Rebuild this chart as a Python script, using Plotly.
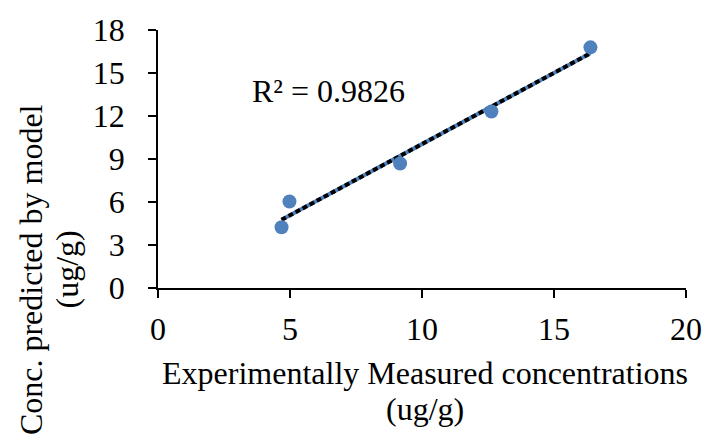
import numpy as np
import plotly.graph_objects as go

# Data
measured = [4.68, 4.98, 9.17, 12.63, 16.38]
predicted = [4.24, 6.03, 8.69, 12.31, 16.79]
x_ticks = [0, 5, 10, 15, 20]
y_ticks = [0, 3, 6, 9, 12, 15, 18]
r2_label = "R² = 0.9826"
x_title_lines = ["Experimentally Measured concentrations", "(ug/g)"]
y_title_lines = ["Conc. predicted by model", "(ug/g)"]

slope, intercept = np.polyfit(measured, predicted, 1)
tx = [min(measured), max(measured)]
ty = [slope * v + intercept for v in tx]

FONT = "Liberation Serif, Times New Roman, serif"
FS = 32

# plot area in pixels
L, R, T, B = 158, 695.5, 26.5, 288.5
W, H = R - L, B - T


def px(xp):
    return (xp - L) / W


def py(yp):
    return (B - yp) / H


fig = go.Figure()
fig.add_trace(go.Scatter(x=tx, y=ty, mode="lines",
                         line=dict(color="#4F81BD", width=4), hoverinfo="skip"))
fig.add_trace(go.Scatter(x=tx, y=ty, mode="lines",
                         line=dict(color="black", width=4, dash="5px,3px"), hoverinfo="skip"))
fig.add_trace(go.Scatter(x=measured, y=predicted, mode="markers",
                         marker=dict(color="#4F81BD", size=14)))

tfont = dict(family=FONT, size=FS, color="black")
fig.add_annotation(x=px(332), y=py(88), xref="paper", yref="paper", text=r2_label,
                   showarrow=False, font=tfont, xanchor="center", yanchor="middle")
# x-axis title (two lines)
fig.add_annotation(x=px(429.5), y=py(375), xref="paper", yref="paper",
                   text=x_title_lines[0], showarrow=False, font=tfont,
                   xanchor="center", yanchor="middle")
fig.add_annotation(x=px(429.5), y=py(411), xref="paper", yref="paper",
                   text=x_title_lines[1], showarrow=False, font=tfont,
                   xanchor="center", yanchor="middle")
# y-axis title (two lines, rotated)
fig.add_annotation(x=px(28), y=py(270), xref="paper", yref="paper",
                   text=y_title_lines[0], showarrow=False, font=tfont, textangle=-90,
                   xanchor="center", yanchor="middle")
fig.add_annotation(x=px(65), y=py(270), xref="paper", yref="paper",
                   text=y_title_lines[1], showarrow=False, font=tfont, textangle=-90,
                   xanchor="center", yanchor="middle")

axis_common = dict(showgrid=False, zeroline=False, showline=True, linecolor="black",
                   linewidth=1.5, ticks="outside", ticklen=8, tickcolor="black",
                   tickwidth=1.5, tickfont=dict(family=FONT, size=FS, color="black"))
fig.update_xaxes(range=[0, 20], tickvals=x_ticks, ticklabelstandoff=4, **axis_common)
fig.update_yaxes(range=[0, 18], tickvals=y_ticks, ticklabelstandoff=17, **axis_common)

fig.update_layout(width=714, height=447, showlegend=False,
                  paper_bgcolor="white", plot_bgcolor="white",
                  margin=dict(l=L, r=714 - R, t=T, b=447 - B))
fig.write_html("out.html")
